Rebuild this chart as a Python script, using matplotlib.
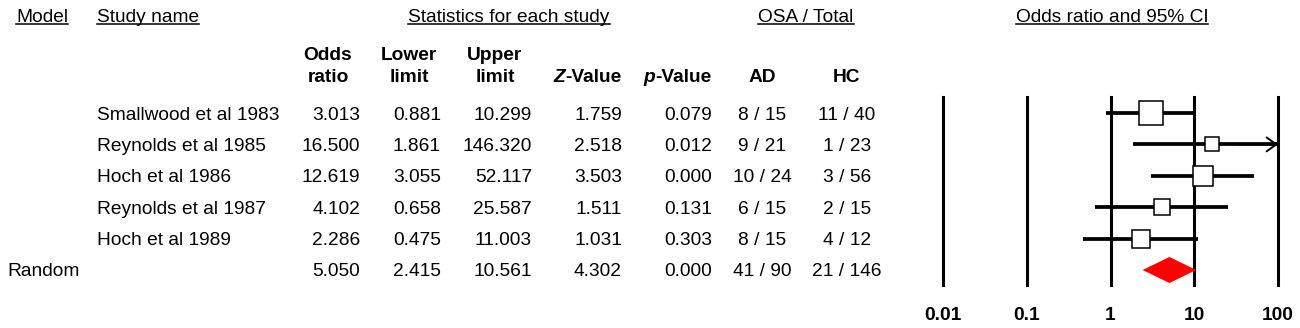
import numpy as np
import matplotlib
matplotlib.use("Agg")
import matplotlib.pyplot as plt
from matplotlib.ticker import NullLocator

plt.rcParams['font.family'] = ['Liberation Sans', 'DejaVu Sans']

# --- data ---
studies = ["Smallwood et al 1983", "Reynolds et al 1985", "Hoch et al 1986",
           "Reynolds et al 1987", "Hoch et al 1989"]
odds_ratio = [3.013, 16.500, 12.619, 4.102, 2.286]
lower = [0.881, 1.861, 3.055, 0.658, 0.475]
upper = [10.299, 146.320, 52.117, 25.587, 11.003]
z_value = [1.759, 2.518, 3.503, 1.511, 1.031]
p_value = [0.079, 0.012, 0.000, 0.131, 0.303]
ad_events = [8, 9, 10, 6, 8]
ad_total = [15, 21, 24, 15, 15]
hc_events = [11, 1, 3, 2, 4]
hc_total = [40, 23, 56, 15, 12]
rel_weight = [30.0, 11.8, 23.9, 15.0, 19.2]  # relative box areas (%)

pooled_model = "Random"
pooled = {"or": 5.050, "lo": 2.415, "hi": 10.561, "z": 4.302, "p": 0.000}

or_ticks = [0.01, 0.1, 1, 10, 100]
tick_labels = ["0.01", "0.1", "1", "10", "100"]

# --- layout (pixel units) ---
W, H = 1300, 328
fs = 13.8
row0, step = 113, 31.4
n = len(studies)
rows_y = row0 + step * np.arange(n + 1)

fig = plt.figure(figsize=(W / 100, H / 100), dpi=100)
fig.patch.set_facecolor('white')
tab = fig.add_axes([0, 0, 1, 1])
tab.set_xlim(0, W)
tab.set_ylim(H, 0)
tab.axis('off')

# top header row (underlined)
top_y = 15
top_headers = [("Model", 16, 'left'), ("Study name", 97, 'left'),
               ("Statistics for each study", 509, 'center'),
               ("OSA / Total", 806, 'center'),
               ("Odds ratio and 95% CI", 1112, 'center')]
top_texts = [tab.text(x, top_y, s, ha=ha, va='center_baseline', fontsize=fs)
             for s, x, ha in top_headers]

# column headers
hdr_y = 75
col_headers = [("Odds\nratio", 328), ("Lower\nlimit", 409), ("Upper\nlimit", 495),
               ("AD", 762), ("HC", 847)]
for s, x in col_headers:
    lines = s.split("\n")
    for k, line in enumerate(lines):
        yy = hdr_y - 22 * (len(lines) - 1 - k)
        tab.text(x, yy, line, ha='center', va='center_baseline',
                 fontsize=fs, fontweight='bold')

for first, rest, x in [("Z", "-Value", 621), ("p", "-Value", 711)]:
    t = tab.text(x, hdr_y, rest, ha='right', va='center_baseline',
                 fontsize=fs, fontweight='bold')
    tab.annotate(first, xy=(0, 0), xycoords=t, ha='right', va='bottom',
                 fontsize=fs, fontweight='bold', fontstyle='italic')

# table body
def row_text(y, vals):
    xs = [(360, 'right'), (441, 'right'), (532, 'right'), (622, 'right'),
          (712, 'right'), (762, 'center'), (847, 'center')]
    for (x, ha), v in zip(xs, vals):
        tab.text(x, y, v, ha=ha, va='center_baseline', fontsize=fs)

for i in range(n):
    y = rows_y[i]
    tab.text(97, y, studies[i], ha='left', va='center_baseline', fontsize=fs)
    row_text(y, [f"{odds_ratio[i]:.3f}", f"{lower[i]:.3f}", f"{upper[i]:.3f}",
                 f"{z_value[i]:.3f}", f"{p_value[i]:.3f}",
                 f"{ad_events[i]} / {ad_total[i]}",
                 f"{hc_events[i]} / {hc_total[i]}"])

y = rows_y[n]
tab.text(7, y, pooled_model, ha='left', va='center_baseline', fontsize=fs)
row_text(y, [f"{pooled['or']:.3f}", f"{pooled['lo']:.3f}", f"{pooled['hi']:.3f}",
             f"{pooled['z']:.3f}", f"{pooled['p']:.3f}",
             f"{sum(ad_events)} / {sum(ad_total)}",
             f"{sum(hc_events)} / {sum(hc_total)}"])

# --- forest plot ---
top_px, bot_px, left_px, right_px = 97, 285, 943, 1278
ax = fig.add_axes([left_px / W, 1 - bot_px / H, (right_px - left_px) / W,
                   (bot_px - top_px) / H])
ax.patch.set_alpha(0)
ax.set_xscale('log')
xmin, xmax = or_ticks[0], or_ticks[-1]
ax.set_xlim(xmin, xmax)
ax.set_ylim((bot_px - row0) / step, (top_px - row0) / step)

for v in or_ticks:
    ax.axvline(v, color='black', lw=2.2, clip_on=False, zorder=1)

max_box_px = 25
for i in range(n):
    hi = min(upper[i], xmax)
    ax.hlines(i, lower[i], hi, color='black', lw=2.7, zorder=2)
    if upper[i] > xmax:
        ax.annotate('', xy=(xmax, i), xytext=(xmax / 3, i),
                    arrowprops=dict(arrowstyle='->,head_length=0.7,head_width=0.5',
                                    lw=1.4, color='black', shrinkA=0, shrinkB=0),
                    annotation_clip=False)
    side_px = max_box_px * np.sqrt(rel_weight[i] / max(rel_weight))
    ax.plot(odds_ratio[i], i, marker='s', ms=side_px * 0.72 - 1.1, mfc='white',
            mec='black', mew=1.1, zorder=3, clip_on=False)

hd = 13 / step
ax.fill([pooled['lo'], pooled['or'], pooled['hi'], pooled['or']],
        [n, n - hd, n, n + hd], color='#ff0000', lw=0, zorder=3)

ax.set_xticks(or_ticks)
ax.set_xticklabels(tick_labels, fontweight='bold', fontsize=fs)
ax.xaxis.set_minor_locator(NullLocator())
ax.tick_params(axis='x', length=0, pad=15.5)
ax.set_yticks([])
for s in ax.spines.values():
    s.set_visible(False)

# underline the top headers
fig.canvas.draw()
r = fig.canvas.get_renderer()
inv = tab.transData.inverted()
for t in top_texts:
    bb = t.get_window_extent(r)
    x0 = inv.transform((bb.x0, bb.y0))[0]
    x1 = inv.transform((bb.x1, bb.y0))[0]
    tab.plot([x0, x1], [top_y + 9, top_y + 9], color='black', lw=1.1)

fig.savefig('out.png', dpi=100)
